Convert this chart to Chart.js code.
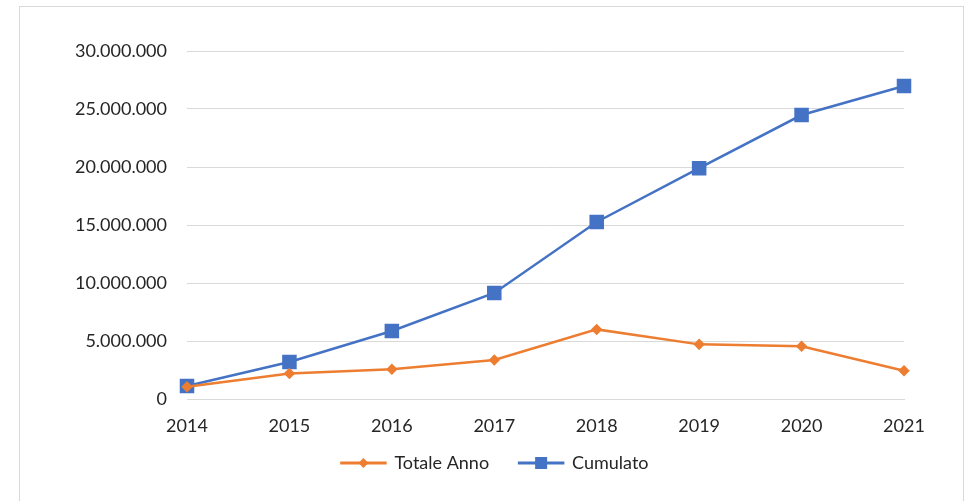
<!DOCTYPE html>
<html>
<head>
<meta charset="utf-8">
<script src="https://cdn.jsdelivr.net/npm/chart.js@4"></script>
<style>
  body { margin: 0; background: #fff; }
  #frame { position: absolute; left: 19px; top: 6px; width: 943px; height: 520px; border: 1px solid #d9d9d9; }
  #wrap { position: absolute; left: 0; top: 0; width: 968px; height: 501px; }
</style>
</head>
<body>
<div id="frame"></div>
<div id="wrap"><canvas id="myLineChart" width="968" height="501"></canvas></div>
<script>
// Dati
const anni = ['2014', '2015', '2016', '2017', '2018', '2019', '2020', '2021'];
const totaleAnno = [1050000, 2200000, 2560000, 3360000, 6000000, 4710000, 4540000, 2440000];
const cumulato = [1120000, 3190000, 5860000, 9140000, 15260000, 19900000, 24480000, 26980000];

const arancio = '#ED7D31';
const blu = '#4472C4';

// formato 30.000.000
function formatta(v) {
    return String(v).replace(/\B(?=(\d{3})+(?!\d))/g, '.');
}

// sposta la legenda (centrata sulla pagina, più vicina all'asse)
const spostaLegenda = {
    id: 'spostaLegenda',
    afterUpdate(chart) {
        const lg = chart.legend;
        if (!lg) return;
        const dx = 43, dy = -19;
        lg.left += dx; lg.right += dx;
        lg.top += dy; lg.bottom += dy;
        (lg.legendHitBoxes || []).forEach(h => { h.left += dx; h.top += dy; });
    }
};

// disegna il marker al centro della linea della legenda
const markerLegenda = {
    id: 'markerLegenda',
    afterDraw(chart) {
        const legend = chart.legend;
        if (!legend || !legend.legendHitBoxes) return;
        const ctx = chart.ctx;
        legend.legendHitBoxes.forEach((box, i) => {
            const ds = chart.data.datasets[i];
            const cx = box.left + 44 / 2;
            const cy = box.top + box.height / 2;
            ctx.save();
            ctx.fillStyle = ds.borderColor;
            ctx.beginPath();
            if (ds.pointStyle === 'rect') {
                ctx.rect(cx - 6, cy - 6, 12, 12);
            } else {
                ctx.moveTo(cx, cy - 5);
                ctx.lineTo(cx + 5, cy);
                ctx.lineTo(cx, cy + 5);
                ctx.lineTo(cx - 5, cy);
                ctx.closePath();
            }
            ctx.fill();
            ctx.restore();
        });
    }
};

const ctx = document.getElementById('myLineChart').getContext('2d');

const myLineChart = new Chart(ctx, {
    type: 'line',
    data: {
        labels: anni,
        datasets: [{
            label: 'Totale Anno',
            data: totaleAnno,
            borderColor: arancio,
            backgroundColor: arancio,
            borderWidth: 2.5,
            pointStyle: 'rectRot',
            pointRadius: 4,
            pointHoverRadius: 4,
            tension: 0
        }, {
            label: 'Cumulato',
            data: cumulato,
            borderColor: blu,
            backgroundColor: blu,
            borderWidth: 2.5,
            pointStyle: 'rect',
            pointRadius: 8.5,
            pointHoverRadius: 8.5,
            tension: 0
        }]
    },
    options: {
        responsive: false,
        animation: false,
        layout: {
            padding: { left: 0, right: 64, top: 51, bottom: 0 }
        },
        scales: {
            x: {
                offset: false,
                grid: { display: false, drawTicks: false },
                border: { display: true, color: '#d9d9d9', width: 1 },
                ticks: {
                    color: '#262626',
                    font: { family: 'Lato', size: 18 },
                    padding: 16,
                    maxRotation: 0,
                    autoSkip: false
                },
                afterFit(scale) { scale.height = 44; }
            },
            y: {
                min: 0,
                max: 30000000,
                grid: { color: '#d9d9d9', drawTicks: false },
                border: { display: false },
                ticks: {
                    stepSize: 5000000,
                    color: '#262626',
                    font: { family: 'Lato', size: 18 },
                    padding: 20,
                    callback: (v) => formatta(v)
                },
                afterFit(scale) { scale.width = 187; }
            }
        },
        plugins: {
            legend: {
                position: 'bottom',
                labels: {
                    boxWidth: 44,
                    boxHeight: 0.5,
                    padding: 30,
                    color: '#262626',
                    font: { family: 'Lato', size: 18 }
                }
            },
            tooltip: { enabled: false }
        }
    },
    plugins: [spostaLegenda, markerLegenda]
});
</script>
</body>
</html>
